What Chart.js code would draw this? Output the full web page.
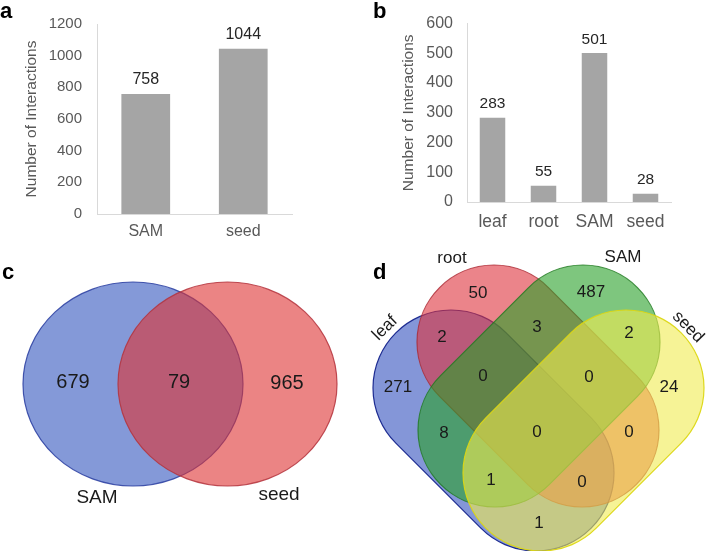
<!DOCTYPE html>
<html><head><meta charset="utf-8">
<script src="https://cdn.jsdelivr.net/npm/chart.js@4"></script>
<style>
html,body{margin:0;padding:0;background:#fff;}
#wrap{position:relative;width:708px;height:551px;overflow:hidden;background:#fff;}
.p{position:absolute;}
</style></head><body>
<div id="wrap">
<div class="p" style="left:0;top:0;width:354px;height:250px"><canvas id="ca"></canvas></div>
<div class="p" style="left:354px;top:0;width:354px;height:250px"><canvas id="cb"></canvas></div>
<div class="p" style="left:0;top:250px;width:354px;height:301px"><canvas id="cc"></canvas></div>
<div class="p" style="left:354px;top:250px;width:354px;height:301px"><canvas id="cd"></canvas></div>
</div>
<script>
// ---------- DATA ----------
const tissuesA = ['SAM', 'seed'];
const interactionsA = [758, 1044];
const tissuesB = ['leaf', 'root', 'SAM', 'seed'];
const interactionsB = [283, 55, 501, 28];
const yTicksA = [0, 200, 400, 600, 800, 1000, 1200];
const yTicksB = [0, 100, 200, 300, 400, 500, 600];
const vennCSets = ['SAM', 'seed'];
const vennCRegions = ['SAM only', 'SAM&seed', 'seed only'];
const vennCCounts = [679, 79, 965];
const vennDSets = ['leaf', 'root', 'SAM', 'seed'];
const vennDRegions = ['leaf', 'root', 'SAM', 'seed', 'leaf&root', 'root&SAM', 'SAM&seed',
  'leaf&root&SAM', 'root&SAM&seed', 'leaf&SAM', 'all', 'root&seed', 'leaf&SAM&seed', 'leaf&root&seed', 'leaf&seed'];
const vennDCounts = [271, 50, 487, 24, 2, 3, 2, 0, 0, 8, 0, 0, 1, 0, 1];

// ---------- LAYOUT / STYLE ----------
const FONT = '"Liberation Sans", Arial, Helvetica, sans-serif';
const GRAY_TXT = '#595959';
const AXIS = '#d9d9d9';
const BAR = '#a5a5a5';
const DARK = '#1a1a1a';

const vennCLayout = {
  shapes: [
    {type: 'ellipse', cx: 133, cy: 134, rx: 110, ry: 102, fill: 'rgba(50,85,190,0.6)', stroke: 'rgba(40,60,160,0.85)'},
    {type: 'ellipse', cx: 227.5, cy: 134, rx: 109.5, ry: 102, fill: 'rgba(222,50,50,0.6)', stroke: 'rgba(180,50,60,0.85)'}
  ],
  regionPos: [[73, 132], [179, 132], [287, 133]],
  regionFont: 20,
  setPos: [[97, 248, 0], [279, 245, 0]],
  setFont: 19
};
const vennDLayout = {
  shapes: [
    {type: 'capsule', c1: [97, 138], c2: [182, 223], r: 78, fill: 'rgba(50,80,190,0.6)', stroke: 'rgba(20,35,140,0.95)'},
    {type: 'capsule', c1: [140, 92], c2: [228, 180], r: 77, fill: 'rgba(222,50,60,0.6)', stroke: 'rgba(170,40,50,0.8)'},
    {type: 'capsule', c1: [229, 92], c2: [141, 180], r: 77, fill: 'rgba(40,160,40,0.6)', stroke: 'rgba(30,120,30,0.8)'},
    {type: 'capsule', c1: [272, 138], c2: [187, 223], r: 78, fill: 'rgba(240,235,80,0.6)', stroke: 'rgba(220,215,20,0.95)'}
  ],
  regionPos: [[44, 137], [124, 43], [237, 42], [315, 137], [88, 87], [183, 77], [275, 83],
    [129, 126], [235, 127], [90, 183], [183, 182], [275, 182], [137, 230], [228, 232], [185, 273]],
  regionFont: 17,
  setPos: [[31, 78, -45], [98, 8, 0], [269, 7, 0], [334, 77, 45]],
  setFont: 17
};

// ---------- PLUGINS ----------
const panelLetter = {
  id: 'panelLetter',
  afterDraw(chart, args, o) {
    if (!o || !o.text) return;
    const ctx = chart.ctx;
    ctx.save();
    ctx.font = 'bold 22px ' + FONT;
    ctx.fillStyle = '#000';
    ctx.textBaseline = 'alphabetic';
    ctx.textAlign = 'left';
    ctx.fillText(o.text, o.x, o.y);
    ctx.restore();
  }
};

const barValueLabels = {
  id: 'barValueLabels',
  afterDatasetsDraw(chart, args, o) {
    if (!o || !o.size) return;
    const ctx = chart.ctx;
    ctx.save();
    ctx.font = o.size + 'px ' + FONT;
    ctx.fillStyle = '#262626';
    ctx.textAlign = 'center';
    ctx.textBaseline = 'alphabetic';
    chart.data.datasets.forEach((ds, di) => {
      chart.getDatasetMeta(di).data.forEach((bar, i) => {
        ctx.fillText(String(ds.data[i]), bar.x, bar.y - o.gap);
      });
    });
    ctx.restore();
  }
};

const vennPlugin = {
  id: 'venn',
  beforeDatasetsDraw(chart, args, o) {
    if (!o || !o.layout) return;
    const L = o.layout, ctx = chart.ctx;
    const xs = chart.scales.x, ys = chart.scales.y;
    const px = v => xs.getPixelForValue(v), py = v => ys.getPixelForValue(v);
    const sx = Math.abs(px(1) - px(0)), sy = Math.abs(py(1) - py(0));
    L.shapes.forEach(s => {
      ctx.save();
      ctx.beginPath();
      if (s.type === 'ellipse') {
        ctx.ellipse(px(s.cx), py(s.cy), s.rx * sx, s.ry * sy, 0, 0, Math.PI * 2);
      } else {
        const x1 = px(s.c1[0]), y1 = py(s.c1[1]), x2 = px(s.c2[0]), y2 = py(s.c2[1]);
        const r = s.r * sx;
        const t = Math.atan2(y2 - y1, x2 - x1);
        ctx.arc(x1, y1, r, t + Math.PI / 2, t + Math.PI * 1.5);
        ctx.arc(x2, y2, r, t - Math.PI / 2, t + Math.PI / 2);
        ctx.closePath();
      }
      ctx.fillStyle = s.fill;
      ctx.fill();
      ctx.lineWidth = 1.2;
      ctx.strokeStyle = s.stroke;
      ctx.stroke();
      ctx.restore();
    });
  },
  afterDatasetsDraw(chart, args, o) {
    if (!o || !o.layout) return;
    const L = o.layout, ctx = chart.ctx;
    const xs = chart.scales.x, ys = chart.scales.y;
    ctx.save();
    ctx.fillStyle = DARK;
    ctx.textAlign = 'center';
    ctx.textBaseline = 'middle';
    ctx.font = L.regionFont + 'px ' + FONT;
    chart.getDatasetMeta(0).data.forEach((pt, i) => {
      ctx.fillText(String(o.counts[i]), pt.x, pt.y);
    });
    ctx.font = L.setFont + 'px ' + FONT;
    o.sets.forEach((name, i) => {
      const p = L.setPos[i];
      ctx.save();
      ctx.translate(xs.getPixelForValue(p[0]), ys.getPixelForValue(p[1]));
      ctx.rotate(p[2] * Math.PI / 180);
      ctx.fillText(name, 0, 0);
      ctx.restore();
    });
    ctx.restore();
  }
};

Chart.register(panelLetter, barValueLabels, vennPlugin);

function barChart(id, labels, values, ticks, cfg) {
  return new Chart(document.getElementById(id), {
    type: 'bar',
    data: {labels: labels, datasets: [{data: values, backgroundColor: BAR, categoryPercentage: 1, barPercentage: 0.5}]},
    options: {
      animation: false, responsive: true, maintainAspectRatio: false,
      layout: {padding: {left: 0, right: cfg.padRight, top: cfg.padTop, bottom: 0}},
      plugins: {
        legend: {display: false}, tooltip: {enabled: false},
        panelLetter: cfg.letter,
        barValueLabels: {size: cfg.valueSize, gap: cfg.valueGap}
      },
      scales: {
        x: {
          grid: {display: false, drawTicks: false},
          border: {display: true, color: AXIS, width: 1},
          ticks: {color: GRAY_TXT, font: {family: FONT, size: cfg.xSize}, padding: cfg.xPad},
          afterFit(s) { s.height = cfg.xHeight; }
        },
        y: {
          min: ticks[0], max: ticks[ticks.length - 1],
          afterBuildTicks(s) { s.ticks = ticks.map(v => ({value: v})); },
          grid: {display: false, drawTicks: false},
          border: {display: true, color: AXIS, width: 1},
          ticks: {color: GRAY_TXT, font: {family: FONT, size: cfg.ySize}, padding: cfg.yPad,
            callback: v => String(v)},
          title: {display: true, text: 'Number of Interactions', color: GRAY_TXT,
            font: {family: FONT, size: 15.5}, padding: {top: cfg.titlePad, bottom: 0}},
          afterFit(s) { s.width = cfg.yWidth; }
        }
      }
    }
  });
}

barChart('ca', tissuesA, interactionsA, yTicksA, {
  padRight: 62, padTop: 24, xHeight: 36, yWidth: 97, xPad: 8, yPad: 15, titlePad: 22.7,
  xSize: 16, ySize: 15, valueSize: 16, valueGap: 9.5, letter: {text: 'a', x: 0, y: 18}
});
barChart('cb', tissuesB, interactionsB, yTicksB, {
  padRight: 37, padTop: 14, xHeight: 48, yWidth: 113, xPad: 10, yPad: 14, titlePad: 45.7,
  xSize: 17.5, ySize: 16, valueSize: 15.5, valueGap: 9.5, letter: {text: 'b', x: 19, y: 18}
});

function vennChart(id, layout, counts, sets, letter, w, h) {
  return new Chart(document.getElementById(id), {
    type: 'scatter',
    data: {datasets: [{data: counts.map((c, i) => ({x: layout.regionPos[i][0], y: layout.regionPos[i][1]})),
      pointRadius: 0, pointHoverRadius: 0}]},
    options: {
      animation: false, responsive: true, maintainAspectRatio: false,
      layout: {padding: 0},
      plugins: {legend: {display: false}, tooltip: {enabled: false},
        panelLetter: letter,
        venn: {layout: layout, counts: counts, sets: sets}},
      scales: {
        x: {type: 'linear', min: 0, max: w, display: false},
        y: {type: 'linear', min: 0, max: h, reverse: true, display: false}
      }
    }
  });
}
vennChart('cc', vennCLayout, vennCCounts, vennCSets, {text: 'c', x: 2, y: 29}, 354, 301);
vennChart('cd', vennDLayout, vennDCounts, vennDSets, {text: 'd', x: 19, y: 29}, 354, 301);
</script>
</body></html>
